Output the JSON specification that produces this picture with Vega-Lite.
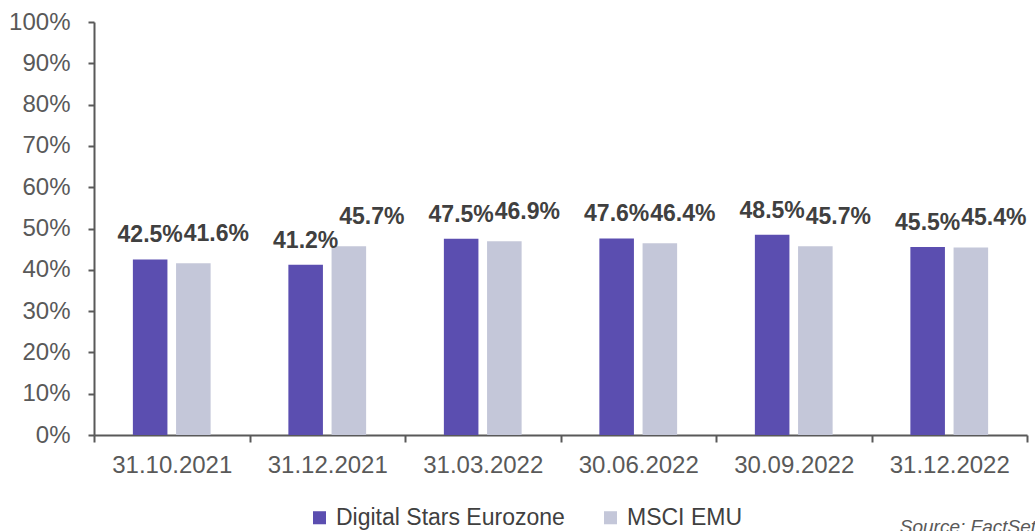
{
  "$schema": "https://vega.github.io/schema/vega-lite/v6.json",
  "width": 933,
  "height": 413,
  "autosize": {"type": "none"},
  "padding": {"left": 94, "top": 22, "right": 8, "bottom": 96},
  "background": "white",
  "title": {
    "text": "Source: FactSet",
    "orient": "bottom",
    "anchor": "end",
    "font": "Liberation Sans",
    "fontSize": 19,
    "fontStyle": "italic",
    "fontWeight": "normal",
    "color": "#595959",
    "offset": -12,
    "dx": 8
  },
  "config": {
    "view": {"stroke": null},
    "font": "Liberation Sans"
  },
  "data": {
    "values": [
      {"date": "31.10.2021", "series": "Digital Stars Eurozone", "value": 0.425},
      {"date": "31.10.2021", "series": "MSCI EMU", "value": 0.416},
      {"date": "31.12.2021", "series": "Digital Stars Eurozone", "value": 0.412},
      {"date": "31.12.2021", "series": "MSCI EMU", "value": 0.457},
      {"date": "31.03.2022", "series": "Digital Stars Eurozone", "value": 0.475},
      {"date": "31.03.2022", "series": "MSCI EMU", "value": 0.469},
      {"date": "30.06.2022", "series": "Digital Stars Eurozone", "value": 0.476},
      {"date": "30.06.2022", "series": "MSCI EMU", "value": 0.464},
      {"date": "30.09.2022", "series": "Digital Stars Eurozone", "value": 0.485},
      {"date": "30.09.2022", "series": "MSCI EMU", "value": 0.457},
      {"date": "31.12.2022", "series": "Digital Stars Eurozone", "value": 0.455},
      {"date": "31.12.2022", "series": "MSCI EMU", "value": 0.454}
    ]
  },
  "encoding": {
    "x": {
      "field": "date",
      "type": "nominal",
      "sort": null,
      "scale": {"paddingInner": 0, "paddingOuter": 0},
      "axis": {
        "title": null,
        "labelAngle": 0,
        "tickBand": "extent",
        "tickSize": 7,
        "tickColor": "#595959",
        "tickWidth": 2,
        "domainColor": "#595959",
        "domainWidth": 2,
        "labelColor": "#595959",
        "labelFontSize": 24,
        "labelPadding": 11,
        "labelFont": "Liberation Sans"
      }
    },
    "xOffset": {
      "field": "series",
      "type": "nominal",
      "scale": {"paddingInner": 0.2, "paddingOuter": 0.9}
    },
    "y": {
      "field": "value",
      "type": "quantitative",
      "scale": {"domain": [0, 1], "nice": false},
      "axis": {
        "title": null,
        "grid": false,
        "values": [0, 0.1, 0.2, 0.3, 0.4, 0.5, 0.6, 0.7, 0.8, 0.9, 1],
        "format": ".0%",
        "tickSize": 6,
        "tickColor": "#595959",
        "tickWidth": 2,
        "domainColor": "#595959",
        "domainWidth": 2,
        "labelColor": "#595959",
        "labelFontSize": 24,
        "labelPadding": 18,
        "labelFont": "Liberation Sans"
      }
    }
  },
  "layer": [
    {
      "mark": {"type": "bar"},
      "encoding": {
        "color": {
          "field": "series",
          "type": "nominal",
          "scale": {"domain": ["Digital Stars Eurozone", "MSCI EMU"], "range": ["#5B4EB0", "#C4C7D9"]},
          "legend": {
            "title": null,
            "orient": "none",
            "direction": "horizontal",
            "legendX": 214,
            "legendY": 484,
            "symbolType": "square",
            "symbolSize": 170,
            "symbolStrokeWidth": 0,
            "labelFontSize": 23,
            "labelLimit": 500,
            "labelColor": "#404040",
            "labelFont": "Liberation Sans",
            "labelOffset": 5,
            "columnPadding": 34
          }
        }
      }
    },
    {
      "transform": [{"filter": "datum.series == 'Digital Stars Eurozone'"}],
      "mark": {"type": "text", "baseline": "alphabetic", "dy": -17, "fontSize": 23, "fontWeight": "bold", "color": "#404040", "font": "Liberation Sans"},
      "encoding": {
        "text": {"field": "value", "type": "quantitative", "format": ".1%"}
      }
    },
    {
      "transform": [{"filter": "datum.series == 'MSCI EMU'"}],
      "mark": {"type": "text", "baseline": "alphabetic", "dx": 23, "dy": -22, "fontSize": 23, "fontWeight": "bold", "color": "#404040", "font": "Liberation Sans"},
      "encoding": {
        "text": {"field": "value", "type": "quantitative", "format": ".1%"}
      }
    }
  ]
}
